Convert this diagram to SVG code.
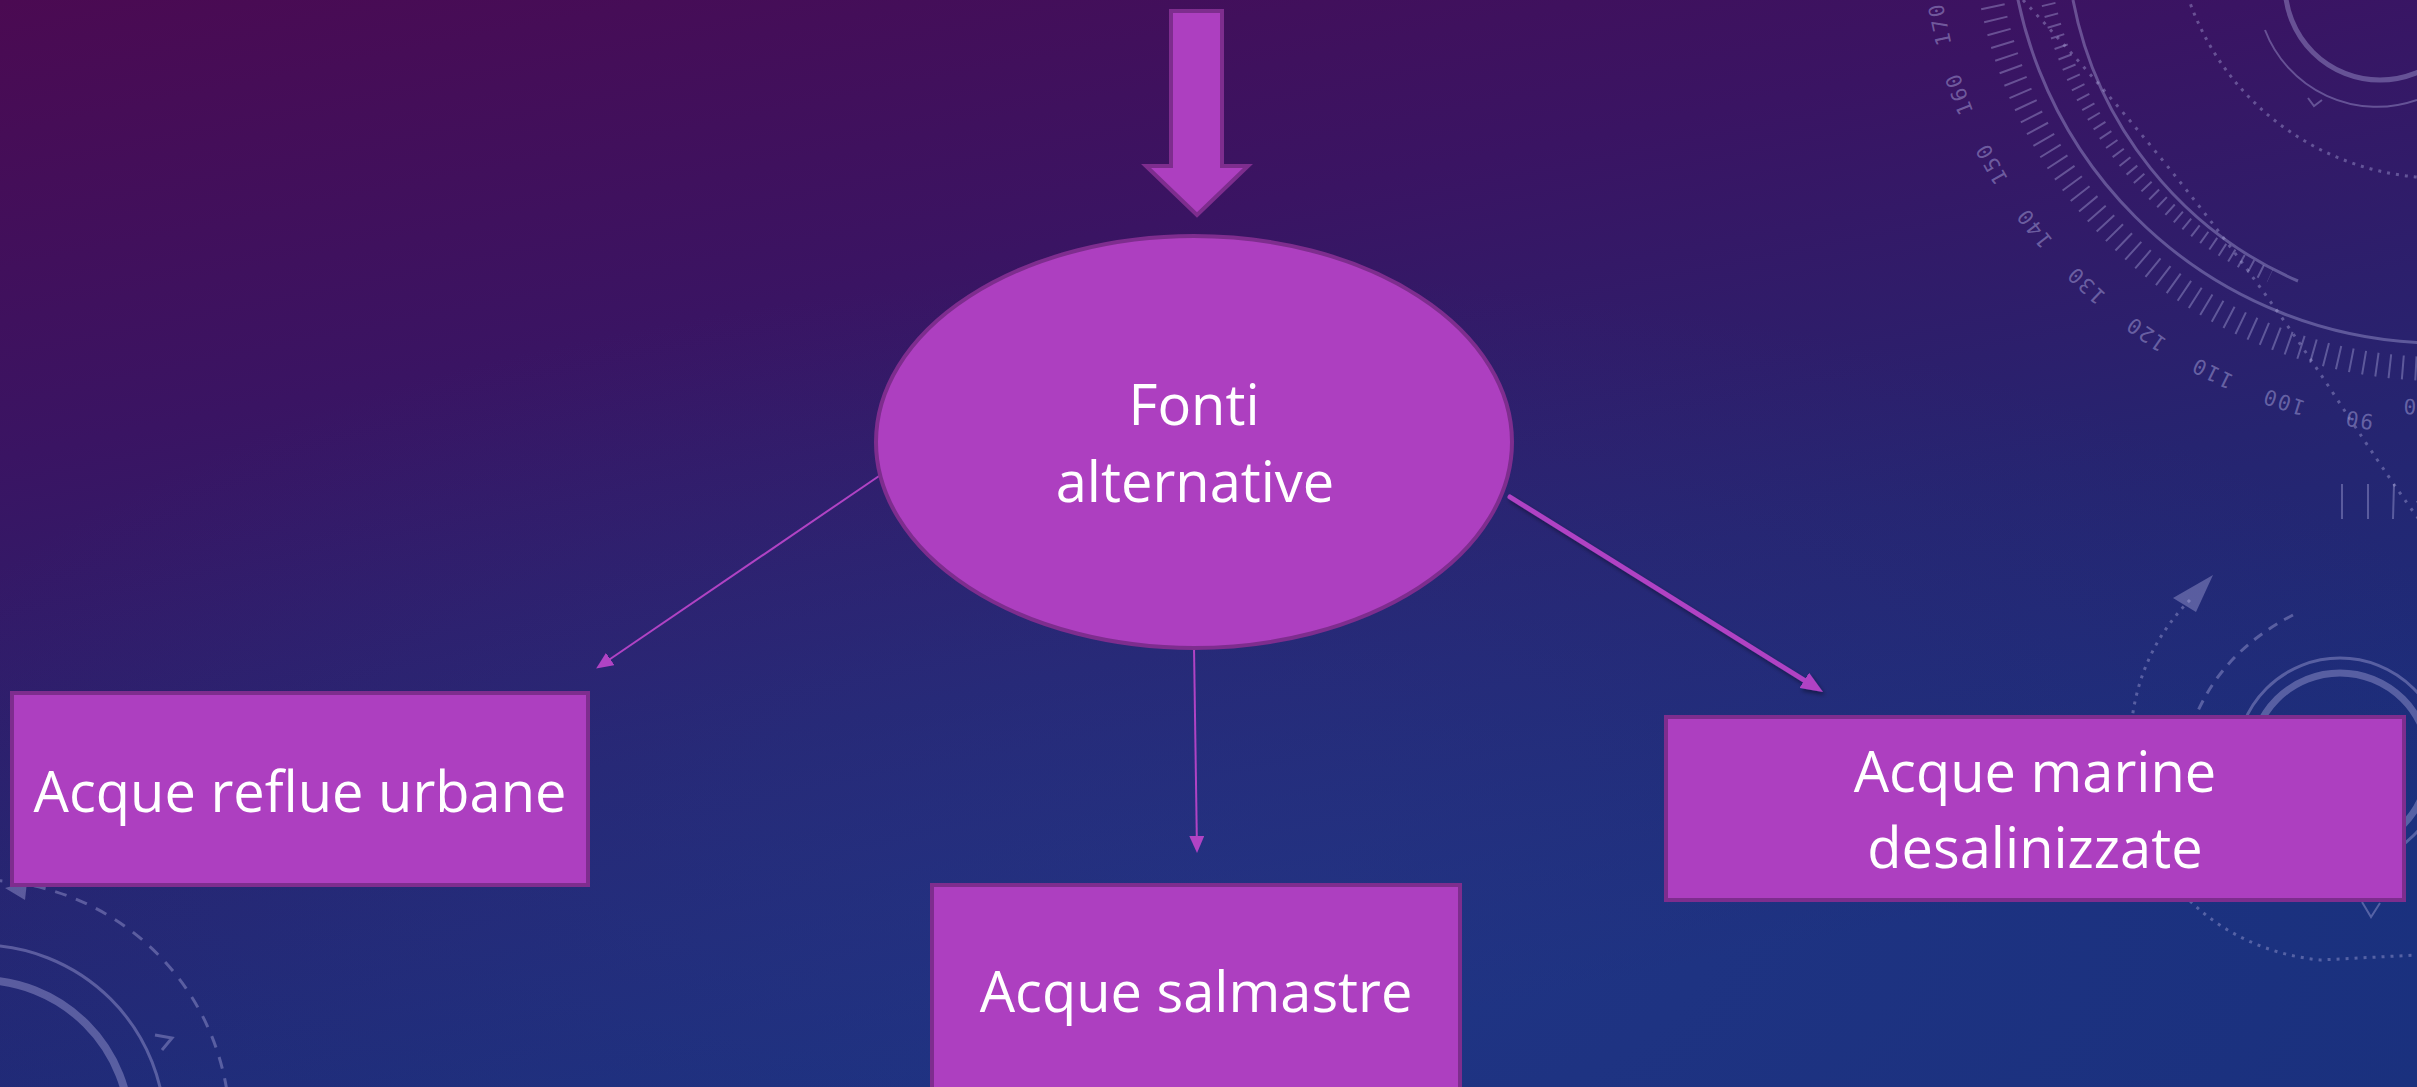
<svg xmlns="http://www.w3.org/2000/svg" width="2417" height="1087" viewBox="0 0 2417 1087">
  <style>
    .node { fill: #ad3fc0; stroke: #7e2d8e; stroke-width: 4; }
    .label { font-family: "Open Sans", "Liberation Sans", sans-serif; font-size: 56px; fill: #ffffff; text-anchor: middle; }
    .conn { fill: none; stroke: #b043c4; }
    .deco { fill: none; stroke: #b6b2e6; stroke-opacity: 0.38; }
    .num { font-family: "DejaVu Sans Mono", "Liberation Mono", monospace; font-size: 21px; fill: #b6b2e6; fill-opacity: 0.45; text-anchor: middle; dominant-baseline: central; letter-spacing: 2px; }
  </style>
  <defs>
    <linearGradient id="bg" x1="0" y1="0" x2="0.45" y2="1">
      <stop offset="0" stop-color="#4b0a52"/>
      <stop offset="0.35" stop-color="#3a1463"/>
      <stop offset="0.68" stop-color="#262470"/>
      <stop offset="1" stop-color="#19307d"/>
    </linearGradient>
    <radialGradient id="glow" cx="0.5" cy="0.85" r="0.6">
      <stop offset="0" stop-color="#2a3a8e" stop-opacity="0.45"/>
      <stop offset="1" stop-color="#2a3a8e" stop-opacity="0"/>
    </radialGradient>
    <marker id="headS" markerUnits="userSpaceOnUse" markerWidth="17" markerHeight="15" refX="8" refY="7.5" orient="auto">
      <path d="M0,0 L17,7.5 L0,15 z" fill="#b043c4"/>
    </marker>
    <marker id="headL" markerUnits="userSpaceOnUse" markerWidth="22" markerHeight="18" refX="12" refY="9" orient="auto">
      <path d="M0,0 L22,9 L0,18 z" fill="#b043c4"/>
    </marker>
    <filter id="shadow" x="-10%" y="-10%" width="130%" height="130%">
      <feDropShadow dx="2" dy="3" stdDeviation="2" flood-color="#000" flood-opacity="0.4"/>
    </filter>
  </defs>

  <g id="background">
    <rect x="0" y="0" width="2417" height="1087" fill="url(#bg)"/>
    <rect x="0" y="0" width="2417" height="1087" fill="url(#glow)"/>
    <!-- top right dial -->
    <circle class="deco" cx="2440" cy="-88" r="431" stroke-width="3"/>
    <circle class="deco" cx="2440" cy="-88" r="457" stroke-width="24" stroke-dasharray="2 11"/>
    <path class="deco" d="M2073,0 A385,385 0 0 0 2298,281" stroke-width="3"/>
    <path class="deco" d="M2044,-18 A402,402 0 0 0 2270,276" stroke-width="14" stroke-dasharray="2 9"/>
    <circle class="deco" cx="2440" cy="-88" r="266" stroke-width="3" stroke-dasharray="3 6"/>
    <circle class="deco" cx="2380" cy="-15" r="95" stroke-width="5"/>
    <path class="deco" d="M2265,30 A120,120 0 0 0 2417,100" stroke-width="2"/>
    <polyline class="deco" points="2308,98 2314,106 2322,100" stroke-width="2"/>
    <path class="deco" d="M2023,0 Q2200,190 2333,393 T2417,500" stroke-width="3" stroke-dasharray="3 7"/>
    <line class="deco" x1="2342" y1="484" x2="2342" y2="519" stroke-width="2"/>
    <line class="deco" x1="2368" y1="484" x2="2368" y2="519" stroke-width="2"/>
    <line class="deco" x1="2394" y1="484" x2="2393" y2="519" stroke-width="2"/>
    <text class="num" transform="translate(2409,406) rotate(182)">0</text>
    <text class="num" transform="translate(2358.7,419.5) rotate(189.1)">90</text>
    <text class="num" transform="translate(2283.7,401.7) rotate(197.7)">100</text>
    <text class="num" transform="translate(2212.2,372.8) rotate(206.3)">110</text>
    <text class="num" transform="translate(2145.9,333.6) rotate(214.9)">120</text>
    <text class="num" transform="translate(2086.2,284.9) rotate(223.5)">130</text>
    <text class="num" transform="translate(2034.4,227.8) rotate(232.1)">140</text>
    <text class="num" transform="translate(1991.7,163.6) rotate(240.7)">150</text>
    <text class="num" transform="translate(1959.2,93.7) rotate(249.3)">160</text>
    <text class="num" transform="translate(1940,24) rotate(257.9)">170</text>
    <!-- right middle rings -->
    <circle class="deco" cx="2340" cy="762" r="104" stroke-width="3"/>
    <circle class="deco" cx="2340" cy="762" r="89" stroke-width="7"/>
    <path class="deco" d="M2190,600 C2140,650 2120,720 2135,800 C2150,880 2220,950 2320,960 L2417,955" stroke-width="3" stroke-dasharray="3 6"/>
    <path d="M2173,598 L2213,575 L2196,612 z" fill="#b6b2e6" fill-opacity="0.38"/>
    <path class="deco" d="M2293,615 Q2225,650 2197,713" stroke-width="3" stroke-dasharray="10 8"/>
    <polyline class="deco" points="2362,902 2371,917 2380,903" stroke-width="2"/>
    <!-- bottom left rings -->
    <circle class="deco" cx="-20" cy="1130" r="185" stroke-width="3"/>
    <circle class="deco" cx="-20" cy="1130" r="150" stroke-width="8"/>
    <circle class="deco" cx="-20" cy="1130" r="250" stroke-width="3" stroke-dasharray="12 10"/>
    <path d="M5,888 L27,882 L25,900 z" fill="#b6b2e6" fill-opacity="0.38"/>
    <polyline class="deco" points="155,1035 172,1038 162,1050" stroke-width="3"/>
  </g>

  <g id="connectors">
    <line class="conn" x1="882" y1="474" x2="603.6" y2="663.5" stroke-width="2" marker-end="url(#headS)"/>
    <line class="conn" x1="1194" y1="647" x2="1196.9" y2="844" stroke-width="2" marker-end="url(#headS)"/>
    <line class="conn" x1="1510" y1="497" x2="1814.5" y2="686.7" stroke-width="5" stroke-linecap="round" marker-end="url(#headL)" filter="url(#shadow)"/>
  </g>

  <g id="input-arrow">
    <polygon class="node" points="1171,11 1222,11 1222,166 1248,166 1197,215 1146,166 1171,166"/>
  </g>

  <g id="node-fonti">
    <ellipse class="node" cx="1194" cy="442" rx="318" ry="206"/>
    <text class="label" x="1194" y="425">Fonti</text>
    <text class="label" x="1195" y="502">alternative</text>
  </g>

  <g id="node-reflue">
    <rect class="node" x="12" y="693" width="576" height="192"/>
    <text class="label" x="300" y="812">Acque reflue urbane</text>
  </g>

  <g id="node-salmastre">
    <rect class="node" x="932" y="885" width="528" height="230"/>
    <text class="label" x="1196" y="1012">Acque salmastre</text>
  </g>

  <g id="node-marine">
    <rect class="node" x="1666" y="717" width="738" height="183"/>
    <text class="label" x="2035" y="792">Acque marine</text>
    <text class="label" x="2035" y="868">desalinizzate</text>
  </g>
</svg>
